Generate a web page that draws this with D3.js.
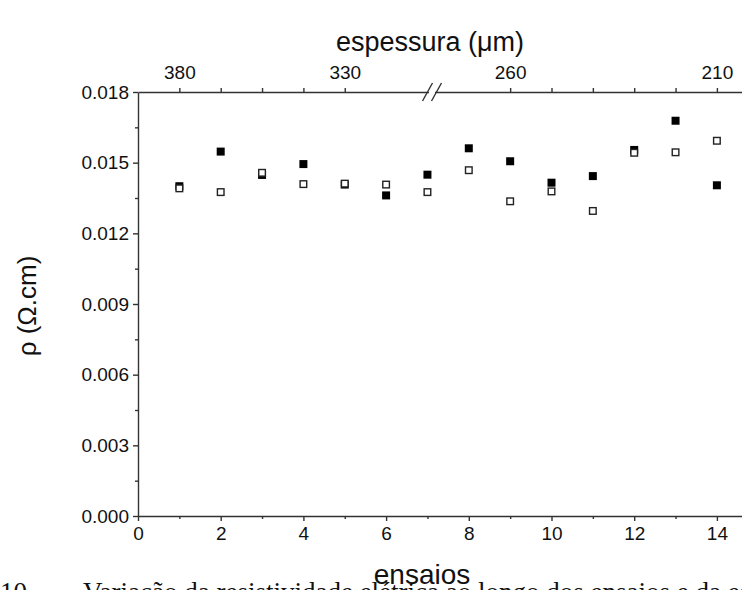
<!doctype html>
<html>
<head>
<meta charset="utf-8">
<title>Resistividade x ensaios</title>
<style>
  body { margin: 0; background: #fff; }
  svg { display: block; }
  .tick text { font-family: "Liberation Sans", Arial, sans-serif; font-size: 19px; fill: #111; }
  .axis path, .axis line { stroke: #333; stroke-width: 1.4; }
  .lbl { font-family: "Liberation Sans", Arial, sans-serif; fill: #111; }
</style>
<script src="https://cdn.jsdelivr.net/npm/d3@7"></script>
</head>
<body>
<svg width="742" height="590"></svg>
<script>
  // ensaio number (bottom axis)
  var ENSAIOS = [1, 2, 3, 4, 5, 6, 7, 8, 9, 10, 11, 12, 13, 14];
  // filled squares
  var RHO_FILLED = [0.0140, 0.01547, 0.01448, 0.01494, 0.01407, 0.01361, 0.01449,
                    0.01561, 0.01506, 0.01415, 0.01443, 0.01554, 0.01678, 0.01404];
  // open squares
  var RHO_OPEN = [0.01391, 0.01375, 0.01457, 0.01409, 0.01411, 0.01407, 0.01375,
                  0.01468, 0.01336, 0.01378, 0.01295, 0.01542, 0.01544, 0.01593];

  var Y_TICKS = [0, 0.003, 0.006, 0.009, 0.012, 0.015, 0.018];
  var Y_MINOR = [0.0015, 0.0045, 0.0075, 0.0105, 0.0135, 0.0165];
  var X_TICKS = [0, 2, 4, 6, 8, 10, 12, 14];
  var X_MINOR = [1, 3, 5, 7, 9, 11, 13];

  // top axis: thickness, placed on the ensaio scale (axis is broken between 5 and 9)
  var TOP_TICKS = [1, 2, 3, 4, 5, 9, 10, 11, 12, 13, 14];
  var TOP_LABEL_POS = [1, 5, 9, 14];
  var TOP_LABEL_TEXT = ["380", "330", "260", "210"];
  var BREAK_AT = 7.11;

  var svg = d3.select("svg");

  var x = d3.scaleLinear().domain([0, 15]).range([138, 138 + 15 * 41.35]);
  var y = d3.scaleLinear().domain([0, 0.018]).range([516, 92]);

  // left axis
  svg.append("g").attr("class", "axis")
     .attr("transform", "translate(" + x(0) + ",0)")
     .call(d3.axisLeft(y).tickValues(Y_TICKS).tickSize(5).tickSizeOuter(0).tickPadding(4).tickFormat(d3.format(".3f")));
  svg.append("g").attr("class", "axis")
     .attr("transform", "translate(" + x(0) + ",0)")
     .call(d3.axisLeft(y).tickValues(Y_MINOR).tickSize(3).tickSizeOuter(0).tickFormat(""))
     .select(".domain").remove();

  // bottom axis
  svg.append("g").attr("class", "axis")
     .attr("transform", "translate(0," + y(0) + ")")
     .call(d3.axisBottom(x).tickValues(X_TICKS).tickSize(5).tickSizeOuter(0).tickPadding(6).tickFormat(d3.format("d")));
  svg.append("g").attr("class", "axis")
     .attr("transform", "translate(0," + y(0) + ")")
     .call(d3.axisBottom(x).tickValues(X_MINOR).tickSize(3).tickSizeOuter(0).tickFormat(""))
     .select(".domain").remove();

  // top axis
  svg.append("g").attr("class", "axis")
     .attr("transform", "translate(0," + y(0.018) + ")")
     .call(d3.axisTop(x).tickValues(TOP_TICKS).tickSize(4).tickSizeOuter(0).tickPadding(9)
        .tickFormat(function(d) {
           var i = TOP_LABEL_POS.indexOf(d);
           return i < 0 ? "" : TOP_LABEL_TEXT[i];
        }));

  // axis break marks "//"
  var bx = x(BREAK_AT), by = y(0.018);
  svg.append("rect").attr("x", bx - 3).attr("y", by - 2).attr("width", 6).attr("height", 4).attr("fill", "#fff");
  [-4.5, 4.5].forEach(function(off) {
     svg.append("line")
        .attr("x1", bx + off - 5).attr("y1", by + 9)
        .attr("x2", bx + off + 5).attr("y2", by - 9)
        .attr("stroke", "#333").attr("stroke-width", 1.4);
  });

  // data
  var S = 8;
  svg.append("g").selectAll("rect")
     .data(ENSAIOS)
     .enter().append("rect")
        .attr("x", function(d) { return x(d) - S / 2; })
        .attr("y", function(d, i) { return y(RHO_FILLED[i]) - S / 2; })
        .attr("width", S).attr("height", S)
        .attr("fill", "#000");

  svg.append("g").selectAll("rect")
     .data(ENSAIOS)
     .enter().append("rect")
        .attr("x", function(d) { return x(d) - S / 2 + 0.7; })
        .attr("y", function(d, i) { return y(RHO_OPEN[i]) - S / 2 + 0.7; })
        .attr("width", S - 1.4).attr("height", S - 1.4)
        .attr("fill", "#fff").attr("stroke", "#222").attr("stroke-width", 1.4);

  // caption line of the page, cut by the bottom edge
  var cap = svg.append("text")
     .attr("y", 601)
     .style("font-family", "'Liberation Serif', 'DejaVu Serif', serif")
     .style("font-size", "27px").attr("fill", "#111");
  cap.append("tspan").attr("x", 0).text("10 -");
  cap.append("tspan").attr("x", 83).text("Variação da resistividade elétrica ao longo dos ensaios e da espessura");

  // axis titles
  svg.append("text").attr("class", "lbl")
     .attr("x", 422).attr("y", 584).attr("text-anchor", "middle")
     .style("font-size", "28px").text("ensaios");
  svg.append("text").attr("class", "lbl")
     .attr("x", 430).attr("y", 51).attr("text-anchor", "middle")
     .style("font-size", "27px").text("espessura (\u03bcm)");
  svg.append("text").attr("class", "lbl")
     .attr("transform", "translate(36,306) rotate(-90)")
     .attr("text-anchor", "middle")
     .style("font-size", "26px").text("\u03c1 (\u03a9.cm)");
</script>
</body>
</html>
